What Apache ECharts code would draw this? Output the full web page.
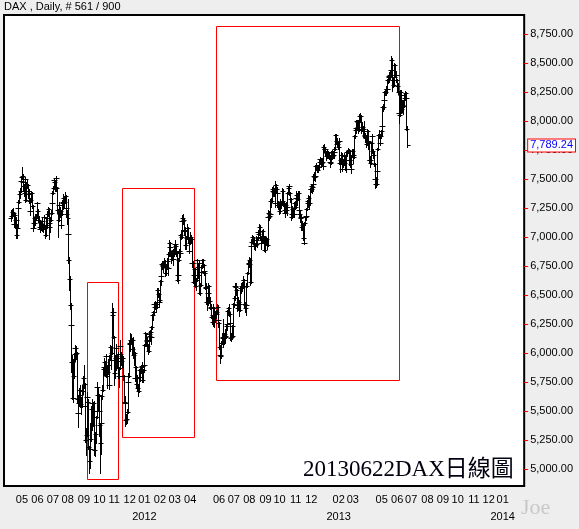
<!DOCTYPE html>
<html><head><meta charset="utf-8">
<script src="https://cdn.jsdelivr.net/npm/echarts@6/dist/echarts.min.js"></script>
<style>html,body{margin:0;padding:0;background:#eeeeee}#c{width:579px;height:529px}</style>
</head><body><div id="c"></div>
<script>
const chartTitle = 'DAX , Daily, # 561 / 900';
const captionText = '20130622DAX日線圖';
const signature = 'Joe';
const lastValue = 7789.24;
const yTickValues = [5000,5250,5500,5750,6000,6250,6500,6750,7000,7250,7500,7750,8000,8250,8500,8750];
const yMin = 4853, yMax = 8914;
const axisStart = '2011-03-24';
const axisEnd = '2014-02-13';
const dataStart = '2011-04-07';
const holidays = ['2011-04-22','2011-04-25','2011-12-26','2012-04-06','2012-04-09','2012-05-01','2012-12-24','2012-12-25','2012-12-26','2012-12-31','2013-01-01','2013-03-29','2013-04-01','2013-05-01','2013-12-25','2013-12-26','2014-01-01'];
const hiddenMonths = ['2011-03','2011-04','2012-05','2013-01','2013-04'];
const yearMarks = {'2012-01':'2012','2013-02':'2013','2014-01':'2014'};

// daily bars [open, high, low, close]
const apr2011 = [[7160,7230,7140,7180],[7180,7240,7160,7217],[7217,7250,7180,7210],[7210,7215,7090,7110],[7110,7200,7100,7190],[7190,7200,7080,7110],[7110,7170,7090,7150],[7150,7160,6990,7020],[7020,7100,6995,7080],[7080,7260,7080,7250],[7250,7320,7240,7300],[7300,7390,7290,7370],[7370,7420,7340,7400],[7400,7490,7390,7480],[7480,7530,7460,7515]];
const may2011 = [[7515,7600,7500,7530],[7530,7540,7450,7470],[7470,7490,7400,7440],[7440,7460,7350,7380],[7380,7520,7370,7500],[7500,7510,7300,7320],[7320,7470,7310,7450],[7450,7490,7420,7450],[7450,7460,7340,7370],[7370,7420,7350,7400],[7400,7410,7290,7310],[7310,7320,7190,7220],[7220,7340,7210,7320],[7320,7400,7300,7380],[7380,7390,7250,7270],[7270,7280,7060,7080],[7080,7150,7050,7120],[7120,7160,7080,7120],[7120,7180,7100,7160],[7160,7200,7130,7170],[7170,7200,7150,7180],[7180,7300,7170,7290]];
const jun2011 = [[7290,7300,7200,7220],[7220,7240,7130,7150],[7150,7180,7070,7090],[7090,7120,7040,7070],[7070,7140,7060,7120],[7120,7130,7060,7090],[7090,7160,7080,7140],[7140,7150,7050,7070],[7070,7110,7040,7080],[7080,7190,7070,7170],[7170,7180,7070,7090],[7090,7100,6990,7020],[7020,7170,7010,7160],[7160,7170,7080,7100],[7100,7220,7090,7200],[7200,7260,7180,7240],[7240,7250,6980,7090],[7090,7180,7070,7120],[7120,7170,7040,7150],[7150,7230,7140,7210],[7210,7310,7200,7290],[7290,7400,7280,7380]];
const jul2011 = [[7380,7440,7370,7420],[7420,7500,7410,7490],[7490,7500,7440,7470],[7470,7480,7400,7430],[7430,7525,7420,7510],[7510,7515,7400,7420],[7420,7430,7210,7230],[7230,7240,7000,7150],[7150,7290,7140,7280],[7280,7300,7180,7200],[7200,7260,7170,7220],[7220,7230,7080,7100],[7100,7210,7090,7200],[7200,7320,7190,7300],[7300,7340,7240,7290],[7290,7370,7280,7340],[7340,7350,7260,7300],[7300,7390,7290,7350],[7350,7360,7240,7250],[7250,7280,7170,7200],[7200,7230,7110,7160]];
const aug2011 = [[7200,7330,7020,7030],[7030,7050,6780,6800],[6800,6830,6540,6640],[6640,6660,6380,6410],[6410,6430,6100,6240],[6240,6260,5840,5920],[5920,5980,5600,5920],[5920,5950,5590,5610],[5610,5830,5580,5800],[5800,6000,5780,5990],[5990,6070,5950,6040],[6040,6070,5930,5990],[5990,6060,5950,6000],[6000,6010,5580,5600],[5600,5620,5360,5480],[5480,5640,5470,5570],[5570,5700,5540,5680],[5680,5720,5560,5640],[5640,5720,5530,5560],[5560,5620,5470,5540],[5540,5690,5530,5670],[5670,5720,5600,5670],[5670,5800,5650,5780]];
const sep2011 = [[5780,5900,5700,5730],[5730,5740,5520,5540],[5540,5550,5230,5250],[5250,5350,5120,5290],[5290,5640,5280,5620],[5620,5660,5520,5580],[5580,5600,5170,5190],[5190,5200,4965,5070],[5070,5220,5010,5170],[5170,5400,5120,5260],[5260,5540,5240,5520],[5520,5600,5480,5570],[5570,5580,5340,5380],[5380,5580,5370,5570],[5570,5590,5450,5500],[5500,5510,5120,5160],[5160,5320,5110,5300],[5300,5460,5220,5450],[5450,5720,5440,5710],[5710,5750,5600,5640],[5640,5700,5510,5640],[5640,5650,5480,5500]];
const oct2011 = [[5500,5530,5280,5380],[5380,5400,4965,5220],[5220,5420,5130,5400],[5400,5640,5390,5630],[5630,5720,5600,5680],[5680,5870,5670,5860],[5860,5900,5810,5880],[5880,5960,5850,5920],[5920,5930,5800,5850],[5850,5980,5830,5970],[5970,5990,5790,5800],[5800,5900,5700,5840],[5840,5950,5820,5900],[5900,5910,5690,5720],[5720,5980,5710,5970],[5970,6070,5950,6050],[6050,6060,5920,5940],[5940,6020,5860,6000],[6000,6430,5990,6330],[6330,6390,6300,6350],[6350,6360,6130,6140]];
const nov2011 = [[6140,6150,5720,5830],[5830,5980,5780,5960],[5960,6060,5850,6040],[6040,6080,5930,5970],[5970,5990,5870,5930],[5930,6010,5900,5960],[5960,5970,5780,5800],[5800,5880,5710,5870],[5870,6070,5860,6060],[6060,6110,5980,5990],[5990,6010,5900,5930],[5930,5990,5880,5960],[5960,5970,5790,5800],[5800,5860,5770,5800],[5800,5810,5570,5580],[5580,5630,5520,5570],[5570,5580,5370,5420],[5420,5470,5390,5430],[5430,5520,5400,5490],[5490,5760,5480,5750],[5750,5830,5720,5800],[5800,6100,5790,6090]];
const dec2011 = [[6090,6130,6020,6080],[6080,6175,6070,6110],[6110,6160,6080,6110],[6110,6130,5990,6030],[6030,6130,6000,6110],[6110,6140,5960,5980],[5980,6050,5900,6000],[6000,6010,5770,5780],[5780,5900,5760,5880],[5880,5890,5710,5730],[5730,5810,5700,5780],[5780,5800,5680,5700],[5700,5720,5630,5670],[5670,5860,5660,5850],[5850,5870,5760,5790],[5790,5870,5770,5850],[5850,5900,5830,5880],[5880,5920,5860,5890],[5890,5900,5750,5770],[5770,5860,5750,5850],[5850,5910,5840,5900]];
const jan2012 = [[5900,6080,5890,6070],[6070,6180,6060,6170],[6170,6175,6080,6110],[6110,6140,6020,6100],[6100,6120,6030,6060],[6060,6080,5990,6020],[6020,6170,6010,6160],[6160,6190,6110,6150],[6150,6200,6100,6180],[6180,6200,6080,6140],[6140,6230,6120,6220],[6220,6340,6210,6330],[6330,6360,6280,6350],[6350,6430,6340,6420],[6420,6440,6370,6400],[6400,6450,6380,6420],[6420,6440,6360,6420],[6420,6430,6350,6400],[6400,6560,6390,6540],[6540,6560,6480,6510],[6510,6520,6400,6440],[6440,6520,6430,6460]];
const feb2012 = [[6460,6630,6450,6620],[6620,6680,6590,6660],[6660,6780,6640,6770],[6770,6790,6720,6760],[6760,6780,6700,6750],[6750,6790,6720,6770],[6770,6820,6750,6790],[6790,6800,6660,6690],[6690,6760,6670,6740],[6740,6770,6680,6730],[6730,6820,6720,6790],[6790,6800,6670,6730],[6730,6870,6720,6850],[6850,6970,6840,6950],[6950,6960,6880,6910],[6910,6930,6840,6860],[6860,6880,6780,6810],[6810,6880,6800,6860],[6860,6870,6760,6810],[6810,6900,6800,6890],[6890,6930,6840,6860]];
const mar2012 = [[6860,6950,6850,6940],[6940,6970,6890,6920],[6920,6930,6840,6870],[6870,6880,6620,6630],[6630,6690,6600,6670],[6670,6820,6660,6800],[6800,6900,6790,6880],[6880,6900,6830,6860],[6860,7030,6840,7020],[7020,7060,6980,7000],[7000,7150,6990,7140],[7140,7190,7120,7160],[7160,7200,7110,7150],[7150,7160,7020,7050],[7050,7090,7010,7060],[7060,7070,6900,6930],[6930,7010,6900,6990],[6990,7090,6980,7080],[7080,7110,7050,7080],[7080,7090,6960,6990],[6990,7000,6860,6880],[6880,6970,6870,6950]];
const apr2012 = [[6950,7040,6940,7000],[7000,7020,6950,6980],[6980,6990,6760,6780],[6780,6810,6740,6780],[6780,6790,6600,6610],[6610,6690,6590,6670],[6670,6730,6630,6720],[6720,6730,6570,6580],[6580,6650,6540,6630],[6630,6810,6620,6800],[6800,6810,6720,6740],[6740,6770,6650,6670],[6670,6790,6660,6780],[6780,6790,6510,6520],[6520,6600,6500,6590],[6590,6710,6580,6700],[6700,6760,6680,6740],[6740,6810,6730,6800],[6800,6810,6740,6760]];
const may2012 = [[6760,6770,6690,6710],[6710,6760,6670,6690],[6690,6700,6550,6560],[6560,6600,6460,6570],[6570,6580,6420,6440],[6440,6480,6370,6440],[6440,6530,6410,6520],[6520,6600,6500,6580],[6580,6590,6430,6450],[6450,6480,6380,6400],[6400,6420,6340,6390],[6390,6400,6300,6310],[6310,6320,6250,6270],[6270,6350,6230,6330],[6330,6420,6320,6390],[6390,6400,6220,6280],[6280,6360,6270,6340],[6340,6360,6300,6340],[6340,6370,6320,6350],[6350,6420,6340,6400],[6400,6410,6260,6280],[6280,6320,6220,6260]];
const jun2012 = [[6260,6270,6030,6050],[6050,6070,5915,5980],[5980,6010,5930,5970],[5970,6100,5960,6090],[6090,6170,6080,6140],[6140,6150,6050,6130],[6130,6290,6120,6140],[6140,6170,6080,6160],[6160,6210,6120,6150],[6150,6160,6090,6140],[6140,6240,6130,6230],[6230,6300,6200,6250],[6250,6370,6240,6360],[6360,6400,6330,6390],[6390,6420,6320,6340],[6340,6350,6240,6260],[6260,6270,6110,6130],[6130,6170,6100,6140],[6140,6240,6130,6230],[6230,6240,6120,6150],[6150,6430,6140,6420]];
const jul2012 = [[6420,6490,6400,6470],[6470,6590,6460,6580],[6580,6600,6540,6570],[6570,6600,6500,6540],[6540,6550,6400,6410],[6410,6430,6360,6390],[6390,6480,6380,6440],[6440,6460,6380,6420],[6420,6430,6320,6370],[6370,6570,6360,6560],[6560,6600,6520,6560],[6560,6600,6540,6580],[6580,6610,6530,6570],[6570,6660,6560,6630],[6630,6640,6560,6630],[6630,6640,6390,6420],[6420,6440,6350,6390],[6390,6430,6330,6410],[6410,6600,6400,6580],[6580,6700,6570,6690],[6690,6790,6680,6780],[6780,6800,6740,6770]];
const aug2012 = [[6770,6830,6760,6800],[6800,6820,6590,6610],[6610,6930,6600,6920],[6920,6980,6900,6960],[6960,7020,6950,7000],[7000,7010,6940,6970],[6970,7000,6950,6970],[6970,6980,6900,6940],[6940,6950,6890,6930],[6930,7010,6920,6970],[6970,6990,6920,6940],[6940,7000,6910,6990],[6990,7060,6980,7040],[7040,7060,6990,7030],[7030,7110,7020,7090],[7090,7100,6980,7000],[7000,7010,6930,6950],[6950,6990,6900,6970],[6970,7060,6960,7050],[7050,7070,6990,7010],[7010,7020,6960,6990],[6990,7000,6880,6890],[6890,6990,6870,6970]];
const sep2012 = [[6970,7010,6960,6990],[6990,7000,6940,6980],[6980,6990,6900,6930],[6930,7180,6920,7170],[7170,7230,7150,7210],[7210,7220,7150,7180],[7180,7220,7160,7200],[7200,7330,7190,7310],[7310,7340,7260,7310],[7310,7430,7300,7410],[7410,7440,7370,7400],[7400,7410,7350,7390],[7390,7420,7350,7390],[7390,7400,7260,7290],[7290,7480,7280,7450],[7450,7460,7380,7410],[7410,7430,7350,7380],[7380,7390,7260,7280],[7280,7310,7240,7290],[7290,7300,7200,7220]];
const oct2012 = [[7220,7320,7210,7300],[7300,7330,7270,7300],[7300,7310,7250,7290],[7290,7330,7280,7310],[7310,7420,7300,7400],[7400,7410,7270,7290],[7290,7300,7210,7230],[7230,7240,7170,7210],[7210,7290,7200,7280],[7280,7300,7210,7230],[7230,7270,7190,7260],[7260,7390,7250,7380],[7380,7430,7370,7420],[7420,7460,7400,7440],[7440,7450,7360,7380],[7380,7390,7300,7330],[7330,7340,7150,7170],[7170,7230,7160,7200],[7200,7270,7190,7240],[7240,7250,7170,7200],[7200,7230,7170,7200],[7200,7300,7190,7290],[7290,7310,7240,7260]];
const nov2012 = [[7260,7350,7250,7340],[7340,7400,7330,7360],[7360,7370,7280,7330],[7330,7400,7320,7380],[7380,7400,7220,7230],[7230,7240,7160,7200],[7200,7220,7130,7160],[7160,7190,7130,7170],[7170,7180,7060,7090],[7090,7140,7060,7100],[7100,7110,6970,6990],[6990,7000,6940,6950],[6950,7130,6940,7120],[7120,7180,7100,7170],[7170,7200,7150,7180],[7180,7250,7170,7240],[7240,7320,7230,7310],[7310,7320,7260,7290],[7290,7360,7280,7340],[7340,7350,7240,7290],[7290,7420,7280,7410],[7410,7440,7390,7410]];
const dec2012 = [[7410,7460,7400,7440],[7440,7460,7380,7430],[7430,7480,7400,7460],[7460,7540,7450,7530],[7530,7560,7490,7520],[7520,7550,7480,7530],[7530,7620,7520,7610],[7610,7640,7590,7610],[7610,7620,7560,7580],[7580,7620,7570,7600],[7600,7610,7560,7600],[7600,7660,7590,7650],[7650,7690,7640,7670],[7670,7680,7630,7670],[7670,7680,7600,7640],[7640,7680,7620,7650],[7650,7660,7590,7610]];
const jan2013 = [[7610,7790,7610,7780],[7780,7800,7740,7760],[7760,7780,7710,7760],[7760,7770,7700,7730],[7730,7740,7660,7700],[7700,7740,7680,7720],[7720,7760,7680,7700],[7700,7740,7680,7710],[7710,7730,7670,7700],[7700,7710,7620,7650],[7650,7670,7600,7640],[7640,7740,7630,7730],[7730,7750,7670,7700],[7700,7730,7680,7710],[7710,7740,7680,7710],[7710,7750,7680,7730],[7730,7780,7710,7760],[7760,7890,7750,7880],[7880,7890,7810,7830],[7830,7850,7780,7800],[7800,7850,7780,7820],[7820,7830,7760,7780]];
const feb2013 = [[7780,7850,7770,7830],[7830,7840,7630,7640],[7640,7680,7560,7660],[7660,7730,7640,7710],[7710,7720,7570,7590],[7590,7640,7570,7630],[7630,7670,7600,7650],[7650,7680,7620,7640],[7640,7720,7630,7700],[7700,7710,7580,7590],[7590,7620,7560,7590],[7590,7740,7580,7730],[7730,7750,7700,7730],[7730,7770,7720,7750],[7750,7760,7640,7660],[7660,7680,7620,7660],[7660,7740,7600,7630],[7630,7640,7550,7590],[7590,7710,7580,7700],[7700,7760,7690,7740]];
const mar2013 = [[7740,7760,7660,7710],[7710,7720,7640,7690],[7690,7880,7680,7870],[7870,7940,7850,7920],[7920,7960,7900,7940],[7940,8010,7920,8000],[8000,8010,7930,7950],[7950,8010,7920,7990],[7990,8000,7900,7920],[7920,8060,7910,8040],[8040,8070,8000,8040],[8040,8050,7900,7930],[7930,7970,7900,7930],[7930,7990,7920,7950],[7950,7960,7900,7930],[7930,7940,7860,7910],[7910,8000,7850,7870],[7870,7900,7840,7880],[7880,7890,7820,7850],[7850,7880,7780,7800]];
const apr2013 = [[7800,7930,7790,7910],[7910,7920,7810,7830],[7830,7850,7760,7820],[7820,7830,7640,7660],[7660,7700,7620,7660],[7660,7700,7600,7640],[7640,7820,7630,7810],[7810,7890,7800,7870],[7870,7880,7720,7740],[7740,7760,7680,7710],[7710,7730,7610,7630],[7630,7640,7480,7500],[7500,7510,7420,7460],[7460,7520,7430,7460],[7460,7590,7450,7570],[7570,7770,7560,7760],[7760,7890,7750,7880],[7880,7920,7850,7880],[7880,7890,7790,7810],[7810,7880,7800,7870],[7870,7920,7850,7910]];
const may2013 = [[7910,7990,7880,7960],[7960,8130,7950,8120],[8120,8150,8090,8120],[8120,8190,8100,8180],[8180,8260,8170,8250],[8250,8280,8220,8250],[8250,8300,8220,8280],[8280,8300,8240,8280],[8280,8360,8270,8350],[8350,8400,8330,8390],[8390,8400,8340,8380],[8380,8420,8360,8400],[8400,8430,8360,8400],[8400,8450,8380,8440],[8440,8560,8430,8530],[8530,8540,8260,8350],[8350,8370,8290,8310],[8310,8400,8300,8380],[8380,8500,8370,8480],[8480,8490,8380,8400],[8400,8420,8340,8400],[8400,8430,8340,8350]];
const jun2013 = [[8350,8360,8250,8300],[8300,8330,8230,8250],[8250,8260,8050,8070],[8070,8090,7980,8050],[8050,8270,8040,8250],[8250,8270,8190,8220],[8220,8230,8080,8100],[8100,8180,8080,8140],[8140,8160,8060,8130],[8130,8180,8100,8130],[8130,8230,8120,8200],[8200,8260,8180,8240],[8240,8250,8180,8200],[8200,8200,7920,7930],[7930,7960,7780,7789.24]];

// highlighted boxes
const boxStart = ['2011-09-08','2011-11-16','2012-05-28'];
const boxEnd = ['2011-11-09','2012-04-12','2013-06-06'];
const boxTop = [6612,7422,8819];
const boxBottom = [4915,5276,5767];

const months = [apr2011,may2011,jun2011,jul2011,aug2011,sep2011,oct2011,nov2011,dec2011,jan2012,feb2012,mar2012,apr2012,may2012,jun2012,jul2012,aug2012,sep2012,oct2012,nov2012,dec2012,jan2013,feb2013,mar2013,apr2013,may2013,jun2013];

function fmt(d){return d.toISOString().slice(0,10);}
const cats = [];
for (let d = new Date(axisStart+'T00:00:00Z'); fmt(d) <= axisEnd; d.setUTCDate(d.getUTCDate()+1)) {
  const wd = d.getUTCDay(), s = fmt(d);
  if (wd === 0 || wd === 6 || holidays.includes(s)) continue;
  cats.push(s);
}
const startIdx = cats.indexOf(dataStart);
const bars = [].concat(...months);
const barData = bars.map((b,k)=>[startIdx+k, b[0], b[1], b[2], b[3]]);
const boxData = boxStart.map((s,k)=>[cats.indexOf(s), boxTop[k], cats.indexOf(boxEnd[k]), boxBottom[k]]);
const showMark = cats.map((s,i)=> i>0 && s.slice(0,7)!==cats[i-1].slice(0,7) && !hiddenMonths.includes(s.slice(0,7)));
const numFmt = v => Number(v).toLocaleString('en-US',{minimumFractionDigits:2,maximumFractionDigits:2});
const sans = '"Liberation Sans", Arial, sans-serif';
const px = v => Math.round(v)+0.5;

const chart = echarts.init(document.getElementById('c'), null, {renderer:'canvas'});
chart.setOption({
  animation:false,
  backgroundColor:'#eeeeee',
  grid:{left:4, top:15, right:52, bottom:43, show:true, backgroundColor:'#ffffff', borderColor:'#000', borderWidth:2},
  xAxis:{
    type:'category', data:cats, boundaryGap:true,
    axisLine:{lineStyle:{color:'#000', width:2}},
    axisTick:{alignWithLabel:true, interval:(i)=>showMark[i], length:4, lineStyle:{color:'#ff0000', width:1}},
    axisLabel:{interval:(i)=>showMark[i], color:'#000', fontSize:11, fontFamily:sans, lineHeight:17, margin:5,
      formatter:(v)=>{const ym=v.slice(0,7); const m=v.slice(5,7); return yearMarks[ym] ? m+'\n'+yearMarks[ym] : m;}},
    splitLine:{show:false}
  },
  yAxis:[{
    type:'value', position:'right', min:yMin, max:yMax, scale:true,
    axisLine:{show:true, lineStyle:{color:'#000', width:1}},
    axisTick:{show:true, customValues:yTickValues, length:4, lineStyle:{color:'#ff0000'}},
    axisLabel:{customValues:yTickValues, formatter:numFmt, color:'#000', fontSize:11, fontFamily:sans, margin:6},
    splitLine:{show:false}
  },{
    type:'value', position:'right', min:yMin, max:yMax, scale:true, z:10,
    axisLine:{show:false}, axisTick:{show:false},
    axisLabel:{customValues:[lastValue], formatter:numFmt, color:'#0000ff', fontSize:11, fontFamily:sans, margin:4,
      backgroundColor:'#ffffff', borderColor:'#ff0000', borderWidth:1, padding:[1,2,0,2]},
    splitLine:{show:false}
  }],
  series:[{
    type:'custom', z:1, clip:true, data:boxData,
    encode:{x:[0,2], y:[1,3]},
    renderItem:(params, api)=>{
      const a = api.coord([api.value(0), api.value(1)]);
      const b = api.coord([api.value(2), api.value(3)]);
      const x1 = px(a[0]), y1 = px(a[1]), x2 = px(b[0]), y2 = px(b[1]);
      const st = {stroke:'#ff0000', lineWidth:1, fill:null};
      return {type:'group', children:[
        {type:'line', shape:{x1:x1, y1:y1, x2:x2, y2:y1}, style:st},
        {type:'line', shape:{x1:x2, y1:y1, x2:x2, y2:y2}, style:st},
        {type:'line', shape:{x1:x1, y1:y2, x2:x2, y2:y2}, style:st},
        {type:'line', shape:{x1:x1, y1:y1, x2:x1, y2:y2}, style:st}
      ]};
    }
  },{
    type:'custom', z:2, clip:true, data:barData,
    encode:{x:0, y:[1,2,3,4]},
    renderItem:(params, api)=>{
      const i = api.value(0);
      const o = api.coord([i, api.value(1)]), h = api.coord([i, api.value(2)]);
      const l = api.coord([i, api.value(3)]), c = api.coord([i, api.value(4)]);
      const x = px(h[0]);
      const st = {stroke:'#000', lineWidth:1};
      return {type:'group', children:[
        {type:'line', shape:{x1:x, y1:Math.round(h[1]), x2:x, y2:Math.round(l[1])+1}, style:st},
        {type:'line', shape:{x1:x-3, y1:px(o[1]), x2:x, y2:px(o[1])}, style:st},
        {type:'line', shape:{x1:x, y1:px(c[1]), x2:x+3, y2:px(c[1])}, style:st}
      ]};
    }
  }],
  graphic:[
    {type:'text', left:4, top:1, z:100, style:{text:chartTitle, font:'11px '+sans, fill:'#000'}},
    {type:'text', left:303, top:458, z:100, style:{text:captionText, font:'23px "Liberation Serif", "Noto Sans CJK TC", serif', fill:'#000010'}},
    {type:'text', left:521, top:497, z:100, style:{text:signature, font:'22px "Liberation Serif", serif', fill:'#c8c8c8'}}
  ]
});
</script>
</body></html>
